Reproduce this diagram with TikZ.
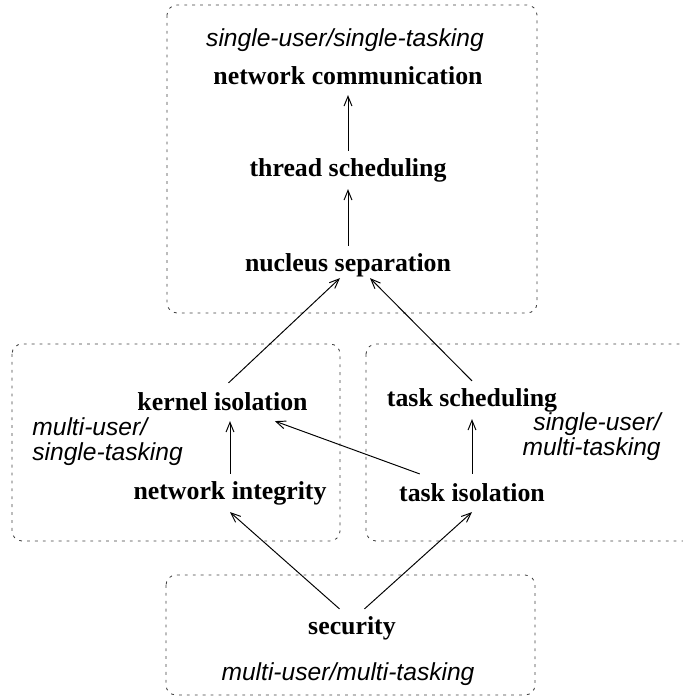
\documentclass[tikz,border=0pt]{standalone}
\usepackage{fontspec}
\setmainfont{Liberation Serif}
\setsansfont{Liberation Sans}
\usetikzlibrary{arrows.meta}

\begin{document}
\begin{tikzpicture}[
  part/.style={font=\fontsize{14.7}{17}\selectfont\bfseries, minimum height=0.75cm, inner sep=0pt},
  regime/.style={font=\fontsize{14}{14.2}\selectfont\sffamily\itshape, inner sep=0pt},
  region/.style={draw=black!75, line width=0.5pt, dash pattern=on 1.6pt off 2.9pt, rounded corners=0.2cm},
  dep/.style={-{Straight Barb[length=5.5pt,width=4.5pt]}, line width=0.55pt}
]
\useasboundingbox (0,0) rectangle (13.64,13.96);
% regions
\draw[region] (3.34,13.86) rectangle (10.74,7.70);
\draw[region] (0.24,7.08) rectangle (6.80,3.14);
\draw[region] (7.32,7.08) rectangle (14.10,3.14);
\draw[region] (3.32,2.46) rectangle (10.70,0.06);
% regime labels
\node[regime] (toplabel) at (6.90,13.16) {single-user/single-tasking};
\node[regime, anchor=west, align=left] (leftlabel) at (0.64,5.12) {multi-user/\\single-tasking};
\node[regime, anchor=east, align=right] (rightlabel) at (13.22,5.22) {single-user/\\multi-tasking};
\node[regime] (bottomlabel) at (6.96,0.48) {multi-user/multi-tasking};
% properties
\node[part] (netcomm) at (6.96,12.44) {network communication};
\node[part] (thread) at (6.96,10.56) {thread scheduling};
\node[part] (nucleus) at (6.96,8.66) {nucleus separation};
\node[part] (kernel) at (4.45,5.92) {kernel isolation};
\node[part] (tasksched) at (9.44,5.96) {task scheduling};
\node[part] (netint) at (4.60,4.10) {network integrity};
\node[part] (taskiso) at (9.44,4.10) {task isolation};
\node[part] (security) at (7.04,1.40) {security};
% dependencies
\draw[dep] (thread) -- (netcomm);
\draw[dep] (nucleus) -- (thread);
\draw[dep] ([xshift=0.12cm]kernel.north) -- ([xshift=-0.16cm,yshift=0.12cm]nucleus.south);
\draw[dep] (tasksched.north) -- ([xshift=0.44cm,yshift=0.12cm]nucleus.south);
\draw[dep] (netint.north) -- (netint.north |- kernel.south);
\draw[dep] (taskiso) -- (tasksched);
\draw[dep] (taskiso) -- (kernel);
\draw[dep] ([xshift=-0.25cm]security.north) -- (netint.south);
\draw[dep] ([xshift=0.25cm]security.north) -- (taskiso.south);
\end{tikzpicture}
\end{document}
